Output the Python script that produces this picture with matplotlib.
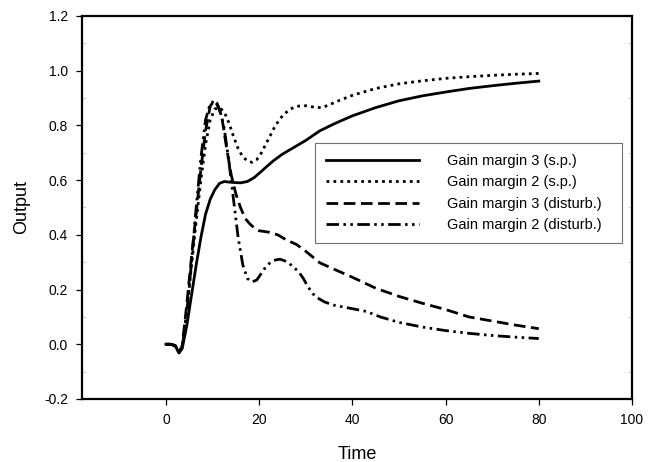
import matplotlib
matplotlib.use("Agg")
import matplotlib.pyplot as plt
from matplotlib.ticker import MultipleLocator, FormatStrFormatter

plt.rcParams['font.family'] = ['Liberation Sans', 'DejaVu Sans']

# set-point responses
t_gm3_sp = [0, 1, 2, 2.8, 3.5, 4.5, 5.5, 6.5, 7.5, 8.5, 9.5, 10.5, 11.5, 12.5, 14, 16, 17.5,
            19, 21, 23, 25, 27, 30, 33, 36, 40, 45, 50, 55, 60, 65, 70, 75, 80]
y_gm3_sp = [0, 0, -0.005, -0.032, -0.015, 0.07, 0.18, 0.29, 0.39, 0.475, 0.53, 0.565, 0.588, 0.595,
            0.592, 0.59, 0.595, 0.61, 0.64, 0.67, 0.695, 0.715, 0.745, 0.78, 0.805, 0.835, 0.865,
            0.89, 0.908, 0.922, 0.935, 0.945, 0.954, 0.962]

t_gm2_sp = [0, 1, 2, 2.8, 3.5, 4.5, 5.5, 6.5, 7.5, 8.5, 9.5, 10.5, 11.5, 12.5, 13.5, 14.5, 15.5,
            16.5, 17.5, 18.5, 19.5, 20.5, 22, 23.5, 25, 26.5, 28, 30, 32, 33.5, 35, 37, 40, 45,
            50, 55, 60, 65, 70, 75, 80]
y_gm2_sp = [0, 0, -0.005, -0.03, -0.01, 0.12, 0.29, 0.45, 0.6, 0.73, 0.82, 0.86, 0.865, 0.85,
            0.81, 0.76, 0.715, 0.685, 0.67, 0.665, 0.675, 0.7, 0.75, 0.8, 0.835, 0.858, 0.87,
            0.872, 0.866, 0.865, 0.875, 0.89, 0.91, 0.935, 0.952, 0.963, 0.972, 0.978, 0.983,
            0.987, 0.99]

# disturbance responses
t_gm3_dist = [0, 1, 2, 2.8, 3.5, 4.5, 5.5, 6.5, 7.5, 8.5, 9.5, 10.3, 11, 12, 13, 14, 15, 16, 17,
              18, 19, 20, 22, 24, 26, 28, 30, 33, 36, 40, 45, 50, 55, 60, 65, 70, 75, 80]
y_gm3_dist = [0, 0, -0.005, -0.03, -0.005, 0.15, 0.32, 0.48, 0.64, 0.78, 0.87, 0.89, 0.88, 0.83,
              0.72, 0.62, 0.55, 0.5, 0.46, 0.44, 0.425, 0.415, 0.41, 0.4, 0.38, 0.365, 0.34,
              0.298, 0.275, 0.245, 0.205, 0.175, 0.15, 0.127, 0.1, 0.085, 0.07, 0.057]

t_gm2_dist = [0, 1, 2, 2.8, 3.5, 4.5, 5.5, 6.5, 7.5, 8.5, 9.5, 10.5, 11.5, 12.5, 13.5, 14.5,
              15.5, 16.5, 17.5, 18.5, 19.5, 20.5, 21.5, 22.5, 23.5, 24.5, 25.5, 26.5, 27.5,
              28.5, 29.5, 30.5, 31.5, 32.5, 34, 36, 40, 43, 46, 50, 55, 60, 65, 70, 75, 80]
y_gm2_dist = [0, 0, -0.005, -0.03, -0.01, 0.12, 0.3, 0.5, 0.68, 0.82, 0.88, 0.89, 0.86, 0.79,
              0.67, 0.53, 0.39, 0.29, 0.24, 0.228, 0.235, 0.26, 0.285, 0.3, 0.308, 0.311, 0.305,
              0.295, 0.28, 0.265, 0.24, 0.21, 0.185, 0.17, 0.155, 0.143, 0.13, 0.12, 0.1, 0.08,
              0.063, 0.05, 0.04, 0.032, 0.026, 0.021]

labels = ['Gain margin 3 (s.p.)', 'Gain margin 2 (s.p.)',
          'Gain margin 3 (disturb.)', 'Gain margin 2 (disturb.)']

fig = plt.figure(figsize=(6.55, 4.62), dpi=100)
ax = fig.add_axes([0.1252, 0.1364, 0.8397, 0.829])

lw = 2.0
ax.plot(t_gm3_sp, y_gm3_sp, color='black', lw=lw, ls='-', label=labels[0])
ax.plot(t_gm2_sp, y_gm2_sp, color='black', lw=lw, ls=(0, (1, 1.5)), label=labels[1])
ax.plot(t_gm3_dist, y_gm3_dist, color='black', lw=lw, ls=(0, (4.2, 2.0)), label=labels[2])
ax.plot(t_gm2_dist, y_gm2_dist, color='black', lw=lw,
        ls=(0, (4.5, 1.6, 0.9, 1.6, 0.9, 1.6)), label=labels[3])

ax.set_xlim(-18, 100)
ax.set_ylim(-0.2, 1.2)
ax.yaxis.set_major_locator(MultipleLocator(0.2))
ax.yaxis.set_minor_locator(MultipleLocator(0.1))
ax.yaxis.set_major_formatter(FormatStrFormatter('%.1f'))
ax.set_xticks([0, 20, 40, 60, 80, 100])

for sp in ax.spines.values():
    sp.set_linewidth(1.6)
ax.tick_params(which='major', direction='out', length=4, width=0.9, labelsize=10, pad=6)
ax.tick_params(which='minor', axis='y', direction='in', length=3, width=0.6,
               color='#c8c8c8', right=True)

ax.set_xlabel('Time', fontsize=13, labelpad=14)
ax.set_ylabel('Output', fontsize=13, labelpad=10)

# legend box stretched to a fixed width inside the axes
leg = ax.legend(loc='upper left', bbox_to_anchor=(0.424, 0.42, 0.558, 0.248), mode='expand',
                fontsize=10.5, handlelength=6.4, handletextpad=1.9, labelspacing=0.5,
                borderpad=0.75, borderaxespad=0, fancybox=False, framealpha=1)
leg.get_frame().set_edgecolor('#707070')
leg.get_frame().set_linewidth(0.8)

fig.savefig('out.png', dpi=100)
